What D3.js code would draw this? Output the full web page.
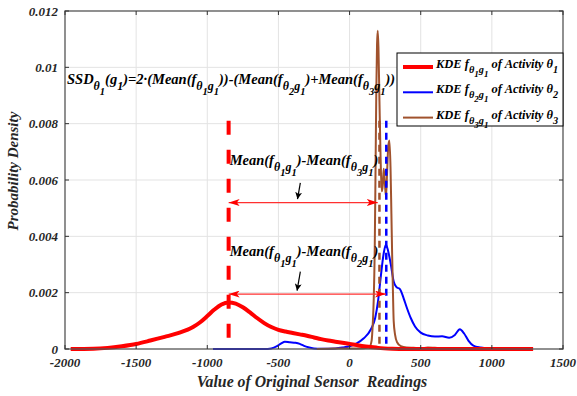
<!DOCTYPE html>
<html>
<head>
<meta charset="utf-8">
<script src="https://cdn.jsdelivr.net/npm/d3@7"></script>
<style>
  html, body { margin: 0; padding: 0; background: #fff; }
  svg { display: block; }
  text { font-family: "Liberation Serif", "Times New Roman", serif; font-weight: bold; font-style: italic; }
</style>
</head>
<body>
<svg id="chart"></svg>
<script>
// KDE of activity 1 (red), 2 (blue), 3 (brown): [sensor value, density]
const kde1 = [[-1960, 0], [-1800, 0.00001], [-1700, 0.00004], [-1600, 0.0001], [-1500, 0.00018], [-1400, 0.0003],
  [-1300, 0.00043], [-1200, 0.00057], [-1100, 0.00078], [-1050, 0.00095], [-1000, 0.00117], [-950, 0.0014],
  [-900, 0.00158], [-850, 0.00165], [-800, 0.00161], [-750, 0.00148], [-700, 0.0013], [-650, 0.0011],
  [-600, 0.00092], [-550, 0.00078], [-500, 0.00068], [-450, 0.00062], [-400, 0.00057], [-350, 0.00052],
  [-300, 0.00047], [-250, 0.00041], [-200, 0.00035], [-150, 0.0003], [-100, 0.00026], [-50, 0.00022],
  [0, 0.00018], [50, 0.00014], [100, 0.0001], [150, 0.00007], [200, 0.00004], [300, 0.00001], [400, 0], [1290, 0]];

const kde2 = [[-960, 0], [-600, 0], [-550, 0.00002], [-510, 0.0001], [-480, 0.0002], [-455, 0.00026], [-420, 0.00024],
  [-380, 0.00022], [-350, 0.00018], [-320, 0.00011], [-290, 0.00006], [-250, 0.00002], [-200, 0.00001],
  [-100, 0.00002], [-50, 0.00005], [0, 0.0001], [50, 0.0002], [100, 0.00038], [150, 0.0007], [180, 0.0011],
  [200, 0.0017], [220, 0.0026], [240, 0.0034], [255, 0.0037], [270, 0.0035], [290, 0.003], [310, 0.0024],
  [330, 0.0022], [355, 0.00212], [380, 0.0018], [400, 0.0015], [430, 0.0011], [460, 0.0008], [500, 0.00058],
  [550, 0.00048], [600, 0.00044], [650, 0.00045], [700, 0.0004], [740, 0.0005], [775, 0.0007], [805, 0.00055],
  [835, 0.0003], [870, 0.00012], [920, 0.00005], [1000, 0.00001], [1080, 0]];

const kde3 = [[-230, 0], [-100, 0.00002], [0, 0.00002], [100, 0.00003], [140, 0.00008], [155, 0.0003],
  [163, 0.0009], [170, 0.0018], [177, 0.0036], [183, 0.0066], [188, 0.0092], [193, 0.0108], [198, 0.0113],
  [203, 0.0107], [210, 0.0088], [218, 0.0068], [226, 0.0056], [233, 0.0058], [240, 0.0064], [248, 0.0059],
  [256, 0.0054], [264, 0.0063], [272, 0.0072], [280, 0.0074], [288, 0.0064], [294, 0.0048], [299, 0.0034],
  [305, 0.002], [310, 0.001], [320, 0.0005], [334, 0.00024], [360, 0.0001], [400, 0.00005], [450, 0.00004],
  [500, 0.00003], [550, 0.00005], [600, 0.00004], [650, 0.00003], [690, 0]];

// mean markers: [x, top]
const means = [[-850, 0.0081], [258, 0.0081], [210, 0.0081]];
// red distance arrows: [x from, x to, y]
const distArrows = [[-850, 198, 0.0052], [-850, 256, 0.00195]];
// black pointers: [x0, y0, x1, y1]
const pointers = [[-346, 0.0059, -366, 0.00532], [-346, 0.00275, -369, 0.00207]];

const xTicks = [-2000, -1500, -1000, -500, 0, 500, 1000, 1500];
const yTicks = [0, 0.002, 0.004, 0.006, 0.008, 0.01, 0.012];
const yTickLabels = ['0', '0.002', '0.004', '0.006', '0.008', '0.01', '0.012'];

const W = 577, H = 396;
const margin = { top: 11, right: 14, bottom: 47, left: 65 };
const width = W - margin.left - margin.right;
const height = H - margin.top - margin.bottom;
const axisColor = '#262626';

const root = d3.select('#chart').attr('width', W).attr('height', H);
const defs = root.append('defs');
const svg = root.append('g').attr('transform', `translate(${margin.left},${margin.top})`);

const x = d3.scaleLinear().domain([-2000, 1500]).range([0, width]);
const y = d3.scaleLinear().domain([0, 0.012]).range([height, 0]);

// Grid
svg.append('g').selectAll('line').data(xTicks.slice(1, -1)).enter().append('line')
  .attr('x1', d => x(d)).attr('x2', d => x(d)).attr('y1', 0).attr('y2', height)
  .attr('stroke', '#e3e3e3').attr('stroke-width', 1);
svg.append('g').selectAll('line').data(yTicks.slice(1, -1)).enter().append('line')
  .attr('y1', d => y(d)).attr('y2', d => y(d)).attr('x1', 0).attr('x2', width)
  .attr('stroke', '#e3e3e3').attr('stroke-width', 1);

// markers
function marker(id, color, w, h) {
  defs.append('marker').attr('id', id)
    .attr('viewBox', `0 0 ${w} ${h}`).attr('refX', w).attr('refY', h / 2)
    .attr('markerWidth', w).attr('markerHeight', h).attr('markerUnits', 'userSpaceOnUse')
    .attr('orient', 'auto-start-reverse')
    .append('path').attr('d', `M0,0L${w},${h / 2}L0,${h}L${w * 0.25},${h / 2}Z`).attr('fill', color);
}
marker('arrRed', '#ff0000', 11, 7);
marker('arrBlack', '#000', 7, 7);

const line = d3.line().x(d => x(d[0])).y(d => y(d[1])).curve(d3.curveMonotoneX);

// Curves
svg.append('path').datum(kde2).attr('d', line).attr('fill', 'none')
  .attr('stroke', '#0000ff').attr('stroke-width', 2).attr('stroke-linejoin', 'round');
svg.append('path').datum(kde3).attr('d', line).attr('fill', 'none')
  .attr('stroke', '#a0522d').attr('stroke-width', 2).attr('stroke-linejoin', 'round');
svg.append('path').datum(kde1).attr('d', line).attr('fill', 'none')
  .attr('stroke', '#ff0000').attr('stroke-width', 4).attr('stroke-linejoin', 'round');

// Mean lines
const meanStyle = [
  { color: '#ff0000', w: 4, dash: '14,15' },
  { color: '#0000ff', w: 2.5, dash: '7,5' },
  { color: '#a0522d', w: 2.5, dash: '7,5' }
];
means.forEach((m, i) => {
  svg.append('line')
    .attr('x1', x(m[0])).attr('x2', x(m[0])).attr('y1', y(m[1])).attr('y2', y(0))
    .attr('stroke', meanStyle[i].color).attr('stroke-width', meanStyle[i].w)
    .attr('stroke-dasharray', meanStyle[i].dash);
});

// Distance arrows
distArrows.forEach(a => {
  svg.append('line')
    .attr('x1', x(a[0])).attr('x2', x(a[1])).attr('y1', y(a[2])).attr('y2', y(a[2]))
    .attr('stroke', '#ff3030').attr('stroke-width', 1.3)
    .attr('marker-start', 'url(#arrRed)').attr('marker-end', 'url(#arrRed)');
});
pointers.forEach(p => {
  svg.append('line')
    .attr('x1', x(p[0])).attr('y1', y(p[1])).attr('x2', x(p[2])).attr('y2', y(p[3]))
    .attr('stroke', '#000').attr('stroke-width', 1.2)
    .attr('marker-end', 'url(#arrBlack)');
});

// Rich text with sub-levels: [text, level]
const sizes = [14.5, 12, 10.5];
const drops = [0, 6, 10.5];
function rich(g, px, py, parts, scale) {
  const t = g.append('text').attr('x', px).attr('y', py).attr('fill', '#000');
  parts.forEach(p => {
    t.append('tspan').attr('y', py + drops[p[1]] * scale)
      .attr('font-size', sizes[p[1]] * scale).text(p[0]);
  });
  return t;
}
const fSub = n => [['θ', 1], [n, 2], ['g', 1], ['1', 2]];

rich(svg, 2, 73, [['SSD', 0], ['θ', 1], ['1', 2], ['(g', 0], ['1', 1], [')=2·(Mean(f', 0], ...fSub('1'),
  ['))-(Mean(f', 0], ...fSub('2'), [')+Mean(f', 0], ...fSub('3'), ['))', 0]], 1);
rich(svg, x(-850) + 1, 154, [['Mean(f', 0], ...fSub('1'), [')-Mean(f', 0], ...fSub('3'), [')', 0]], 1);
rich(svg, x(-850) + 1, 245, [['Mean(f', 0], ...fSub('1'), [')-Mean(f', 0], ...fSub('2'), [')', 0]], 1);

// Axes box
const frame = svg.append('g');
frame.append('rect').attr('x', 0).attr('y', 0).attr('width', width).attr('height', height)
  .attr('fill', 'none').attr('stroke', '#555').attr('stroke-width', 1.3);
xTicks.forEach(t => {
  frame.append('line').attr('x1', x(t)).attr('x2', x(t)).attr('y1', height).attr('y2', height - 4).attr('stroke', '#333');
  frame.append('line').attr('x1', x(t)).attr('x2', x(t)).attr('y1', 0).attr('y2', 4).attr('stroke', '#333');
});
yTicks.forEach(t => {
  frame.append('line').attr('y1', y(t)).attr('y2', y(t)).attr('x1', 0).attr('x2', 4).attr('stroke', '#333');
  frame.append('line').attr('y1', y(t)).attr('y2', y(t)).attr('x1', width).attr('x2', width - 4).attr('stroke', '#333');
});

// Tick labels
svg.append('g').selectAll('text').data(xTicks).enter().append('text')
  .attr('x', d => x(d)).attr('y', height + 18).attr('text-anchor', 'middle')
  .attr('font-size', 13).attr('fill', axisColor).text(d => d);
svg.append('g').selectAll('text').data(yTicks).enter().append('text')
  .attr('x', -7).attr('y', d => y(d) + 4.5).attr('text-anchor', 'end')
  .attr('font-size', 13).attr('fill', axisColor).text((d, i) => yTickLabels[i]);

// Axis titles
svg.append('text').attr('x', 247).attr('y', height + 38).attr('text-anchor', 'middle')
  .attr('font-size', 15.8).attr('fill', axisColor).attr('xml:space', 'preserve')
  .text('Value of Original Sensor  Readings');
svg.append('text').attr('transform', `translate(-47,${height / 2 - 9}) rotate(-90)`)
  .attr('text-anchor', 'middle').attr('font-size', 15).attr('fill', axisColor)
  .text('Probability Density');

// Legend
const lg = svg.append('g').attr('transform', `translate(${x(1500) - 166},42)`);
lg.append('rect').attr('width', 166).attr('height', 73).attr('fill', '#fff').attr('stroke', '#000').attr('stroke-width', 1);
const legendItems = [
  { color: '#ff0000', w: 4, n: '1' },
  { color: '#0000ff', w: 2, n: '2' },
  { color: '#a0522d', w: 2, n: '3' }
];
legendItems.forEach((d, i) => {
  const cy = 14 + i * 25.3;
  lg.append('line').attr('x1', 6).attr('x2', 36).attr('y1', cy).attr('y2', cy)
    .attr('stroke', d.color).attr('stroke-width', d.w);
  rich(lg, 39, cy + 1, [['KDE f', 0], ...fSub(d.n), [' of Activity θ', 0], [d.n, 1]], 0.86);
});
</script>
</body>
</html>
